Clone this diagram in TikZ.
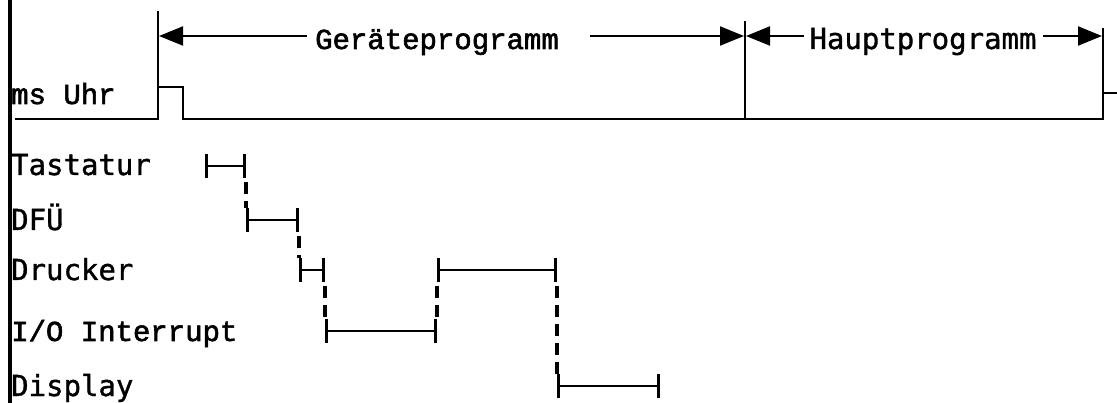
\documentclass[tikz,border=0pt]{standalone}
\usepackage{fontspec}
\usetikzlibrary{arrows.meta,calc}
\newfontfamily\sansmono[FakeBold=1.2]{DejaVu Sans Mono}
\newfontfamily\typemono[FakeBold=2]{Liberation Mono}
\tikzset{
  lbl/.style={anchor=base west, inner sep=0pt, font=\sansmono\fontsize{29}{34}\selectfont},
  lblt/.style={anchor=base west, inner sep=0pt, font=\typemono\fontsize{29}{34}\selectfont},
  ttl/.style={anchor=base, inner sep=0pt},
  arr/.style={line width=2pt, -{Triangle[length=24pt,width=19pt]}},
  spanbar/.style={line width=2.6pt, {Bar[width=24pt,line width=2.6pt]}-{Bar[width=24pt,line width=2.6pt]}},
  handover/.style={line width=3.2pt, dash pattern=on 12pt off 7pt},
  sig/.style={line width=2.8pt, line join=miter},
  vmark/.style={line width=2pt}
}
\begin{document}
\begin{tikzpicture}[x=1pt,y=-1pt]
\useasboundingbox (0,0) rectangle (1117,403);
% left frame bar
\draw[line width=4pt] (10,0) -- (10,403);
% clock signal
\coordinate (c0) at (15,119);
\coordinate (p1) at (158,119);
\coordinate (p2) at (183,119);
\coordinate (m1) at (745,119);
\coordinate (e1) at (1103,119);
\coordinate (cout) at (1117,93);
\draw[sig] (c0) -- (p1) -- (158,87) -- (183,87) -- (p2) -- (e1) -- (1103,93) -- (cout);
% vertical markers
\coordinate (t1) at (158,11);
\coordinate (t2) at (745,21);
\coordinate (t3) at (1103,28);
\draw[vmark] (t1) -- (p1);
\draw[vmark] (t2) -- (m1);
\draw[vmark] (t3) -- (1103,93);
% arrow tips
\coordinate (a1) at (159,36);
\coordinate (a2) at (744,36);
\coordinate (a3) at (746,36);
\coordinate (a4) at (1102,36);
% titles
\node[ttl, font=\typemono\fontsize{29}{34}\selectfont] (gp) at (437,49) {Geräteprogramm};
\node[ttl, font=\sansmono\fontsize{29}{34}\selectfont] (hp) at (923,49) {Hauptprogramm};
\coordinate (g1) at (307,36);
\coordinate (g2) at (590,36);
\coordinate (h1) at (804,36);
\coordinate (h2) at (1043,36);
\draw[arr] (g1) -- (a1);
\draw[arr] (g2) -- (a2);
\draw[arr] (h1) -- (a3);
\draw[arr] (h2) -- (a4);
% row labels
\node[lblt] (ms) at (11,104) {ms Uhr};
\node[lbl] (ta) at (11,175) {Tastatur};
\node[lbl] (df) at (11,230) {DFÜ};
\node[lbl] (dr) at (11,280) {Drucker};
\node[lblt] (io) at (11,341) {I/O Interrupt};
\node[lbl] (di) at (11,396) {Display};
% bars
\coordinate (tas) at (205,166);  \coordinate (tae) at (246,166);
\coordinate (dfs) at (246,220);  \coordinate (dfe) at (299,220);
\coordinate (d1s) at (299,270);  \coordinate (d1e) at (325,270);
\coordinate (d2s) at (437,270);  \coordinate (d2e) at (557,270);
\coordinate (ios) at (325,331);  \coordinate (ioe) at (437,331);
\coordinate (dis) at (557,386);  \coordinate (die) at (660,386);
\draw[spanbar] (tas) -- (tae);
\draw[spanbar] (dfs) -- (dfe);
\draw[spanbar] (d1s) -- (d1e);
\draw[spanbar] (d2s) -- (d2e);
\draw[spanbar] (ios) -- (ioe);
\draw[spanbar] (dis) -- (die);
% dashed hand-overs
\draw[handover] ($(tae)+(0,16)$) -- ($(dfs)+(0,-12)$);
\draw[handover] ($(dfe)+(0,16)$) -- ($(d1s)+(0,-12)$);
\draw[handover] ($(d1e)+(0,16)$) -- ($(ios)+(0,-12)$);
\draw[handover] ($(d2s)+(0,16)$) -- ($(ioe)+(0,-12)$);
\draw[handover] ($(d2e)+(0,16)$) -- ($(dis)+(0,-12)$);
\end{tikzpicture}
\end{document}
